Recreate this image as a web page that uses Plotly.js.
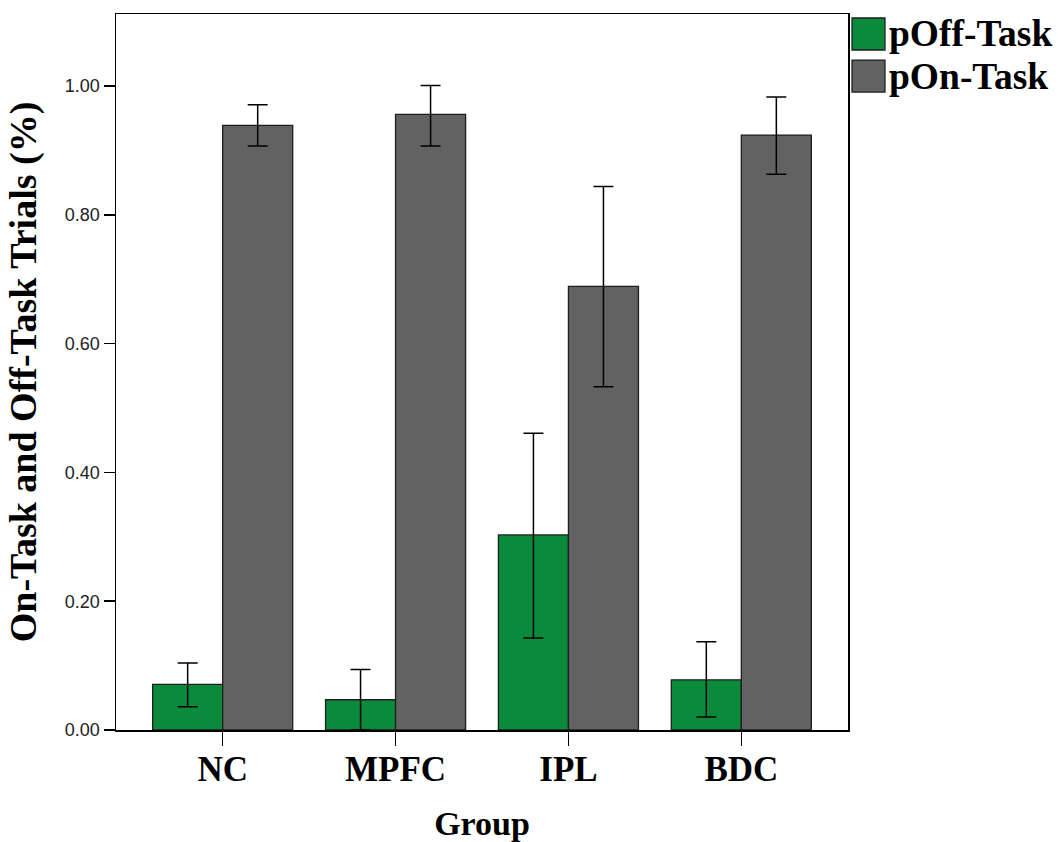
<!DOCTYPE html>
<html>
<head>
<meta charset="utf-8">
<script src="https://cdn.plot.ly/plotly-3.0.1.min.js"></script>
<style>
  html, body { margin: 0; padding: 0; background: #fff; }
  #chart { width: 1060px; height: 842px; }
</style>
</head>
<body>
<div id="chart"></div>
<script>
// ---- data ----
const groups = ["NC", "MPFC", "IPL", "BDC"];
const seriesNames = ["pOff-Task", "pOn-Task"];

const offTask      = [0.071, 0.047, 0.303, 0.078];
const offTaskUpper = [0.104, 0.094, 0.461, 0.137];
const offTaskLower = [0.036, 0.000, 0.143, 0.020];

const onTask       = [0.939, 0.956, 0.689, 0.924];
const onTaskUpper  = [0.971, 1.001, 0.844, 0.983];
const onTaskLower  = [0.907, 0.907, 0.533, 0.863];

const yTickVals = [0, 0.2, 0.4, 0.6, 0.8, 1.0];
const xTitle = "Group";
const yTitle = "On-Task and Off-Task Trials (%)";

// ---- styling ----
const colors = ["#0b8a3c", "#626262"];
const serif = "'Liberation Serif', 'Times New Roman', serif";
const sans = "'Liberation Sans', Arial, sans-serif";

function errBars(vals, upper, lower) {
  return {
    type: "data",
    symmetric: false,
    array: upper.map((u, i) => u - vals[i]),
    arrayminus: lower.map((l, i) => vals[i] - l),
    color: "#000",
    thickness: 1.5,
    width: 10
  };
}

const traces = [
  {
    type: "bar", name: seriesNames[0], x: groups, y: offTask,
    marker: { color: colors[0], line: { color: "#1e1e1e", width: 1.3 } },
    error_y: errBars(offTask, offTaskUpper, offTaskLower)
  },
  {
    type: "bar", name: seriesNames[1], x: groups, y: onTask,
    marker: { color: colors[1], line: { color: "#1e1e1e", width: 1.3 } },
    error_y: errBars(onTask, onTaskUpper, onTaskLower)
  }
];

// manual legend (large swatches like the reference)
const shapes = [];
const annotations = [];
seriesNames.forEach((nm, i) => {
  const top = 0.9944 - i * 0.0587;
  shapes.push({
    type: "rect", xref: "paper", yref: "paper",
    x0: 1.0055, x1: 1.0505, y0: top - 0.0447, y1: top,
    fillcolor: colors[i], line: { color: "#1e1e1e", width: 1.3 }
  });
  annotations.push({
    xref: "paper", yref: "paper", x: 1.053, y: top - 0.0223,
    xanchor: "left", yanchor: "middle", showarrow: false,
    text: nm, font: { family: serif, size: 37.5, color: "#000", weight: "bold" }
  });
});

const layout = {
  width: 1060, height: 842,
  margin: { l: 116, r: 212, t: 14, b: 112 },
  paper_bgcolor: "#fff", plot_bgcolor: "#fff",
  barmode: "group",
  bargap: 0.19,
  bargroupgap: 0,
  showlegend: false,
  xaxis: {
    type: "category",
    range: [-0.617, 3.617],
    showline: true, linecolor: "#000", linewidth: 1.5, mirror: true,
    ticks: "outside", ticklen: 14, tickwidth: 1.5, tickcolor: "#000",
    ticklabelstandoff: -7,
    showgrid: false, zeroline: false,
    tickfont: { family: serif, size: 35, color: "#000", weight: "bold" },
    title: { text: xTitle, standoff: 28, font: { family: serif, size: 34, color: "#000", weight: "bold" } }
  },
  yaxis: {
    range: [0, 1.112],
    tickvals: yTickVals, tickformat: ".2f",
    showline: true, linecolor: "#000", linewidth: 1.5, mirror: true,
    ticks: "outside", ticklen: 11, tickwidth: 1.5, tickcolor: "#000",
    showgrid: false, zeroline: false,
    tickfont: { family: sans, size: 18, color: "#222" },
    title: { text: yTitle, standoff: 16, font: { family: serif, size: 38, color: "#000", weight: "bold" } }
  },
  shapes: shapes,
  annotations: annotations
};

Plotly.newPlot("chart", traces, layout, { displayModeBar: false, staticPlot: true });
</script>
</body>
</html>
